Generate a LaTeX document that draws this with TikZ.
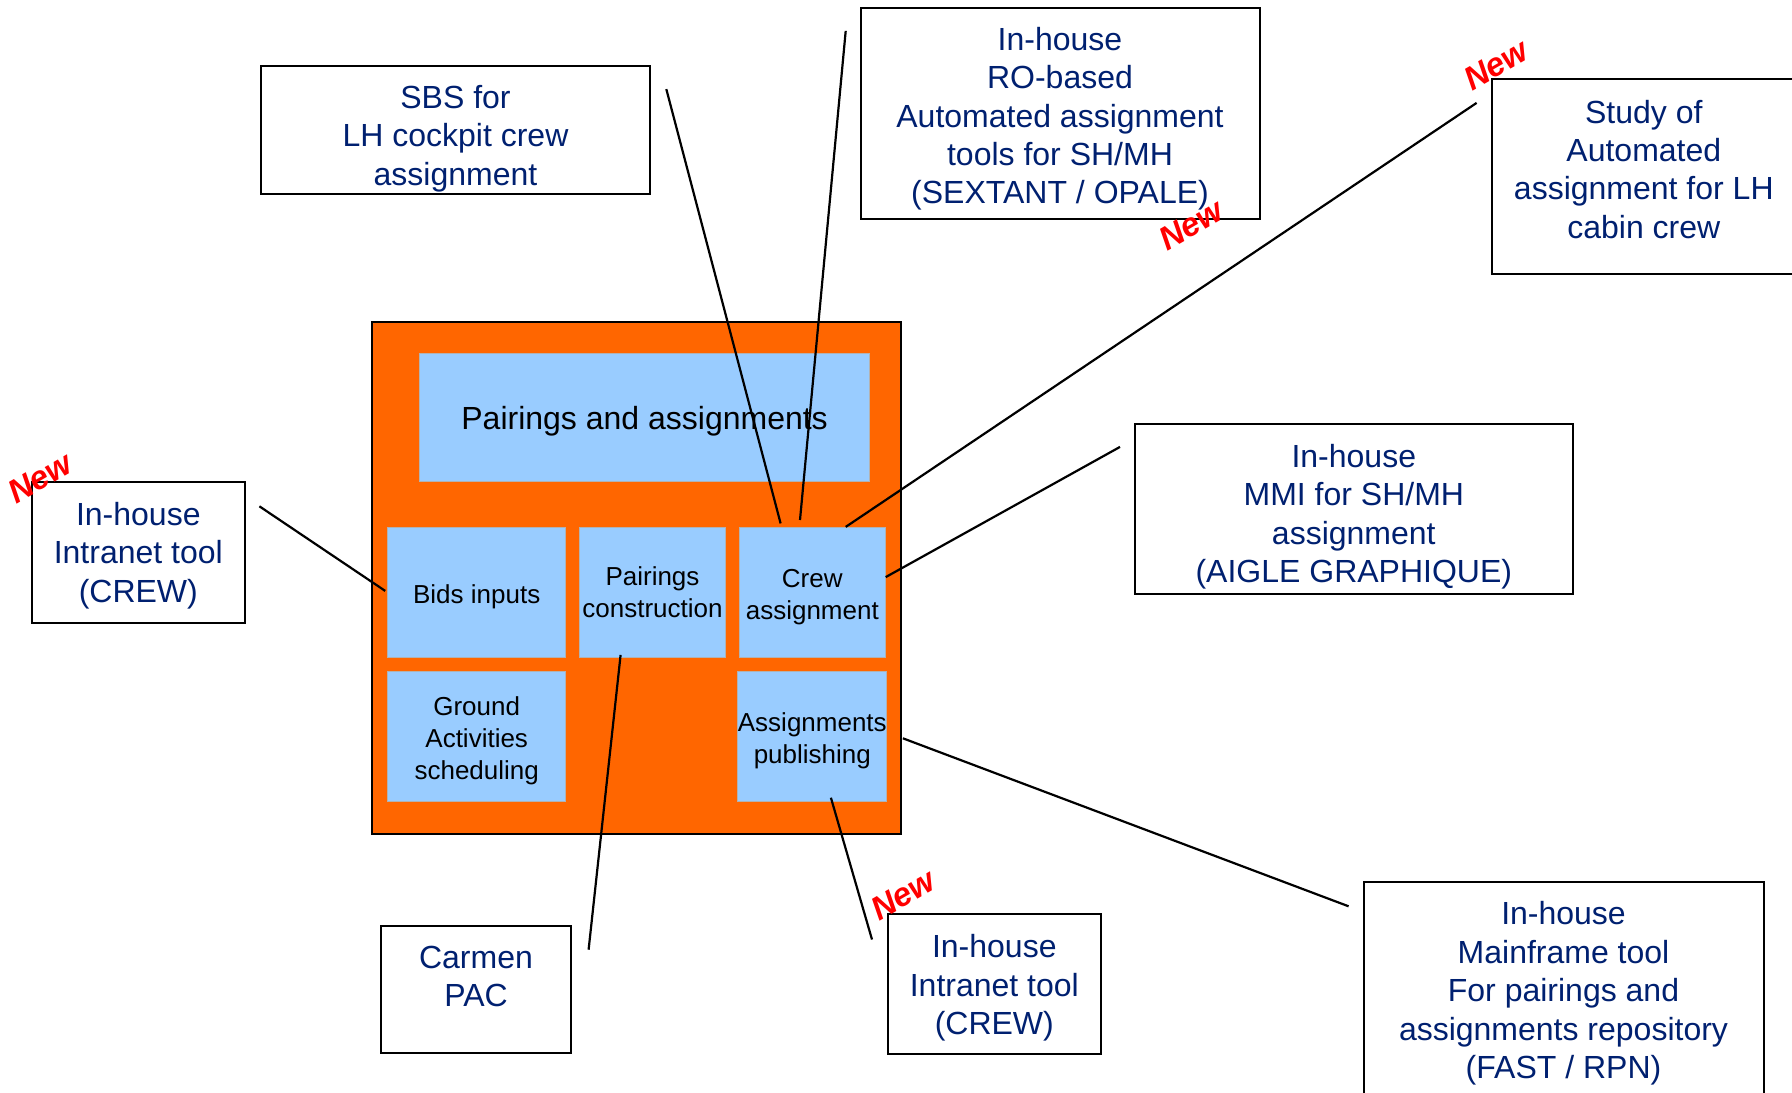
\documentclass[tikz,border=0pt]{standalone}
\usepackage{fontspec}
\setmainfont{Liberation Sans}
\usepackage{tikz}
\definecolor{navy}{RGB}{0,32,112}
\definecolor{skyblue}{RGB}{153,204,255}
\definecolor{orangefill}{RGB}{255,102,0}
\newcommand{\framewd}{1pt}
\newcommand{\liftlines}[2]{\raisebox{#1}[\height][\depth]{\begin{tabular}{@{}c@{}}#2\end{tabular}}}

\begin{document}
\begin{tikzpicture}[x=0.5pt,y=-0.5pt,
    tool/.style={draw, line width=\framewd, text=navy, inner sep=0pt,
      font=\fontsize{16}{19.2}\selectfont},
    part/.style={draw=black!30, line width=.5pt, fill=skyblue, inner sep=0pt,
      minimum width=73.3pt, minimum height=65pt, font=\fontsize{13}{16}\selectfont},
    newtag/.style={text=red, rotate=30, inner sep=0pt,
      font=\fontsize{16.5}{17}\selectfont\bfseries\itshape}]
      \useasboundingbox (0,0) rectangle (1792,1092);

          %%  the process block %%
      \node (frame) at (636.3,578) [draw, line width=\framewd, fill=orangefill, inner sep=0pt,
        minimum width=264.3pt, minimum height=256pt] {};
      \node (pa) at (644.6,417) [part, minimum width=225.2pt, minimum height=64pt,
        font=\fontsize{16}{19}\selectfont] {\liftlines{-2.3pt}{Pairings and assignments}};
      \node (bids) at (476.7,592) [part, minimum width=89.2pt] {\liftlines{-2.3pt}{Bids inputs}};
      \node (pcons) at (652.5,592) [part, minimum width=73.2pt] {\liftlines{-1.5pt}{Pairings\\construction}};
      \node (crew) at (812.3,592) [part] {\liftlines{-2.3pt}{Crew\\assignment}};
      \node (ground) at (476.7,736) [part, minimum width=89.2pt]
        {\liftlines{-2.3pt}{Ground\\Activities\\scheduling}};
      \node (publish) at (812.3,736) [part] {\liftlines{-2.3pt}{Assignments\\publishing}};

          %%  the tools round it %%
      \node (intraL) at (138.3,552.6) [tool, minimum width=106.3pt, minimum height=70.3pt]
        {\liftlines{-1.7pt}{In-house\\Intranet tool\\(CREW)}};
      \node (sbs) at (455.5,130.3) [tool, minimum width=194.9pt, minimum height=64pt]
        {\liftlines{-4.5pt}{SBS for\\LH cockpit crew\\assignment}};
      \node (ro) at (1060,113.7) [tool, minimum width=199.5pt, minimum height=105.7pt]
        {\liftlines{-2.9pt}{In-house\\RO-based\\Automated assignment\\tools for SH/MH\\(SEXTANT / OPALE)}};
      \node (study) at (1643.8,176.6) [tool, minimum width=152.3pt, minimum height=97.7pt]
        {\liftlines{1.8pt}{Study of\\Automated\\assignment for LH\\cabin crew}};
      \node (mmi) at (1353.8,509.2) [tool, minimum width=218.9pt, minimum height=85.2pt]
        {\liftlines{-4pt}{In-house\\MMI for SH/MH\\assignment\\(AIGLE GRAPHIQUE)}};
      \node (carmen) at (476,989.2) [tool, minimum width=95.4pt, minimum height=63.5pt]
        {\liftlines{4.6pt}{Carmen\\PAC}};
      \node (intraB) at (994.3,984) [tool, minimum width=106.3pt, minimum height=69.7pt]
        {\liftlines{-2.3pt}{In-house\\Intranet tool\\(CREW)}};
      \node (mainframe) at (1563.5,990.7) [tool, minimum width=200pt, minimum height=108.4pt]
        {\liftlines{-1.7pt}{In-house\\Mainframe tool\\For pairings and\\assignments repository\\(FAST / RPN)}};

      \node (newL) at (40,478) [newtag] {New};
      \node (newRO) at (1191,225) [newtag] {New};
      \node (newStudy) at (1496,65) [newtag] {New};
      \node (newB) at (903,895) [newtag] {New};

          %%  connectors, free at both ends %%
      \foreach \n/\ax/\ay/\bx/\by in {intraL/259.4/506.3/385.2/590.9, sbs/666.3/89.1/780.6/523.4,
          ro/845.7/30.9/800/520, study/1476.6/102.9/845.7/526.9, mmi/1120/446.9/885.7/577.1,
          carmen/620.6/654.9/588.6/949.7, intraB/830.9/797.7/872/939.5,
          mainframe/902.9/738.3/1348.6/906.3}
      { \coordinate (\n-out) at (\ax,\ay);
        \coordinate (\n-in) at (\bx,\by);
        \draw[line width=1.1pt] (\n-out) to (\n-in);}
\end{tikzpicture}
\end{document}
